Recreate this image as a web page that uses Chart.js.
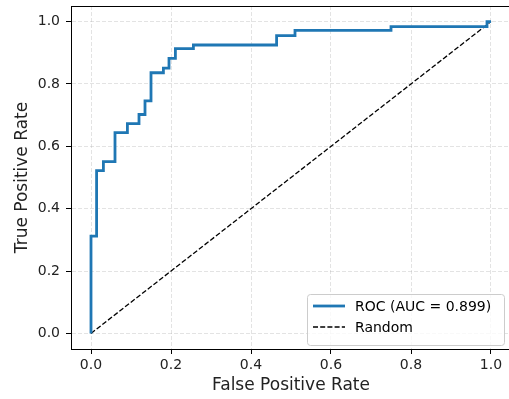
<!DOCTYPE html>
<html lang="en">
<head>
  <meta charset="UTF-8">
  <script src="https://cdn.jsdelivr.net/npm/chart.js"></script>
  <title>ROC</title>
  <style>
    html, body { margin: 0; padding: 0; overflow: hidden; background: #fff; }
    #wrap { width: 515px; height: 399px; }
  </style>
</head>
<body>
<div id="wrap"><canvas id="roc" width="515" height="399"></canvas></div>
<script>
  // ROC curve corners
  const rocFpr = [0, 0, 0.014, 0.014, 0.031, 0.031, 0.06, 0.06, 0.091, 0.091, 0.12, 0.12,
                  0.135, 0.135, 0.15, 0.15, 0.181, 0.181, 0.195, 0.195, 0.211, 0.211,
                  0.256, 0.256, 0.464, 0.464, 0.51, 0.51, 0.75, 0.75, 0.99, 0.99, 1.0];
  const rocTpr = [0, 0.312, 0.312, 0.522, 0.522, 0.551, 0.551, 0.644, 0.644, 0.673, 0.673, 0.702,
                  0.702, 0.746, 0.746, 0.836, 0.836, 0.851, 0.851, 0.882, 0.882, 0.913,
                  0.913, 0.925, 0.925, 0.955, 0.955, 0.972, 0.972, 0.984, 0.984, 1.0, 1.0];
  const randomX = [0, 1];
  const randomY = [0, 1];
  const rocLabel = 'ROC (AUC = 0.899)';
  const randomLabel = 'Random';
  const xTicks = [0, 0.2, 0.4, 0.6, 0.8, 1.0];
  const yTicks = [0, 0.2, 0.4, 0.6, 0.8, 1.0];

  const FONT = "'DejaVu Sans', sans-serif";
  const toPts = (xs, ys) => xs.map((x, i) => ({x: x, y: ys[i]}));

  // frame on top/right + legend box inside the plot
  const extras = {
    id: 'extras',
    afterDraw(chart) {
      const {ctx, chartArea: a} = chart;
      ctx.save();
      ctx.strokeStyle = '#000';
      ctx.lineWidth = 1;
      ctx.beginPath();
      ctx.moveTo(a.left, a.top + 0.5);
      ctx.lineTo(a.right, a.top + 0.5);
      ctx.lineTo(a.right, a.bottom);
      ctx.stroke();

      // legend
      const bx = 307.5, by = 294.5, bw = 197, bh = 51, r = 3;
      ctx.fillStyle = 'rgba(255,255,255,0.8)';
      ctx.strokeStyle = '#cccccc';
      ctx.beginPath();
      ctx.roundRect(bx, by, bw, bh, r);
      ctx.fill();
      ctx.stroke();
      ctx.font = '14px ' + FONT;
      ctx.textBaseline = 'middle';
      ctx.fillStyle = '#000';
      chart.data.datasets.forEach((ds, i) => {
        const y = 306 + i * 21;
        ctx.strokeStyle = ds.borderColor;
        ctx.lineWidth = ds.borderWidth;
        ctx.setLineDash(ds.borderDash || []);
        ctx.beginPath();
        ctx.moveTo(313, y);
        ctx.lineTo(345, y);
        ctx.stroke();
        ctx.setLineDash([]);
        ctx.fillText(ds.label, 355, y + 1);
      });
      ctx.restore();
    }
  };

  const gridOpts = {
    color: 'rgba(176,176,176,0.35)',
    lineWidth: 1,
    tickLength: 5,
    tickColor: '#000',
    tickWidth: 1,
    tickBorderDash: [1, 0]
  };

  new Chart(document.getElementById('roc'), {
    type: 'scatter',
    data: {
      datasets: [{
        label: rocLabel,
        data: toPts(rocFpr, rocTpr),
        showLine: true,
        borderColor: '#1f77b4',
        borderWidth: 2.8,
        pointRadius: 0,
        tension: 0
      }, {
        label: randomLabel,
        data: toPts(randomX, randomY),
        showLine: true,
        borderColor: '#000',
        borderWidth: 1.3,
        borderDash: [5, 2.2],
        pointRadius: 0
      }]
    },
    options: {
      responsive: false,
      animation: false,
      layout: { padding: { top: 6, right: 4, left: 0, bottom: 0 } },
      plugins: { legend: { display: false }, tooltip: { enabled: false } },
      scales: {
        x: {
          type: 'linear', min: -0.05, max: 1.05,
          afterBuildTicks: s => { s.ticks = xTicks.map(v => ({value: v})); },
          afterFit: s => { s.height = 50; s.paddingLeft = 0; s.paddingRight = 0; },
          grid: gridOpts,
          border: { color: '#000', width: 1, dash: [4, 2] },
          ticks: { color: '#222', padding: 3, font: { family: FONT, size: 14 },
                   callback: v => v.toFixed(1), maxRotation: 0 },
          title: { display: true, text: 'False Positive Rate', color: '#222',
                   font: { family: FONT, size: 17 }, padding: { top: 0, bottom: 3 } }
        },
        y: {
          type: 'linear', min: -0.05, max: 1.05,
          afterBuildTicks: s => { s.ticks = yTicks.map(v => ({value: v})); },
          afterFit: s => { s.width = 71; s.paddingTop = 0; s.paddingBottom = 0; },
          grid: gridOpts,
          border: { color: '#000', width: 1, dash: [4, 2] },
          ticks: { color: '#222', padding: 6, font: { family: FONT, size: 14 },
                   callback: v => v.toFixed(1) },
          title: { display: true, text: 'True Positive Rate', color: '#222',
                   font: { family: FONT, size: 17 }, padding: { top: 12, bottom: 0 } }
        }
      }
    },
    plugins: [extras]
  });
</script>
</body>
</html>
